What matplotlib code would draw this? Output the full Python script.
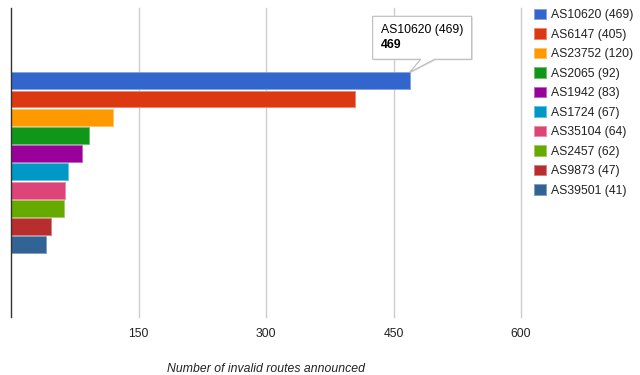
import matplotlib
matplotlib.use("Agg")
import matplotlib.pyplot as plt
import matplotlib.transforms as mtransforms
from matplotlib.patches import Polygon
from matplotlib.colors import to_rgb
import numpy as np

plt.rcParams['font.family'] = ['Liberation Sans', 'DejaVu Sans']

names = ['AS10620', 'AS6147', 'AS23752', 'AS2065', 'AS1942',
         'AS1724', 'AS35104', 'AS2457', 'AS9873', 'AS39501']
values = [469, 405, 120, 92, 83, 67, 64, 62, 47, 41]
colors = ['#3366cc', '#dc3912', '#ff9900', '#109618', '#990099',
          '#0099c6', '#dd4477', '#66aa00', '#b82e2e', '#316395']
xticks = [150, 300, 450, 600]
xlabel = 'Number of invalid routes announced'

FS = 8.8

fig = plt.figure(figsize=(6.4, 3.75), dpi=100)
W, H = 640, 375
ax = fig.add_axes([11 / W, (H - 317.3) / H, (521 - 11) / W, (317.3 - 8.3) / H])

def lighten(c, f=0.4):
    r, g, b = to_rgb(c)
    return (r + (1 - r) * f, g + (1 - g) * f, b + (1 - b) * f)

bars = []
for i, (n, v, c) in enumerate(zip(names, values, colors)):
    b = ax.barh(i, v, height=0.93, color=c, edgecolor=lighten(c), linewidth=0.7,
                label=f'{n} ({v})', zorder=3)
    bars.append(b)

half = 309 / 18.23 / 2
ax.set_ylim(4.5 + half, 4.5 - half)
ax.set_xlim(0, 600)
ax.set_xticks(xticks)
ax.set_xticklabels([str(t) for t in xticks], fontsize=FS, color='#222222')
ax.set_yticks([])
ax.tick_params(axis='x', length=0, pad=8)
ax.grid(axis='x', color='#cccccc', linewidth=1.0, zorder=0)
for gl in ax.get_xgridlines():
    gl.set_clip_on(False)
for s in ['top', 'right', 'bottom']:
    ax.spines[s].set_visible(False)
ax.spines['left'].set_color('#333333')
ax.spines['left'].set_linewidth(1.0)
ax.spines['left'].set_zorder(4)
ax.set_xlabel(xlabel, fontsize=FS, fontstyle='italic', color='#222222', labelpad=16)

# legend
leg = fig.legend(handles=[b for b in bars], loc='upper left',
                 bbox_to_anchor=(534 / W, (H - 8.5) / H), frameon=False,
                 fontsize=FS, handlelength=1.0, handleheight=1.0,
                 handletextpad=0.4, labelspacing=0.56, borderpad=0,
                 borderaxespad=0)
for t in leg.get_texts():
    t.set_color('#222222')

# tooltip anchored to the top-right corner of the first bar
anchor_x = values[0]
anchor_y = 0 - 0.93 / 2
trans = mtransforms.Affine2D().scale(fig.dpi / 100) + \
    mtransforms.ScaledTranslation(anchor_x, anchor_y, ax.transData)
verts = [(-37, 13), (11, 13), (0, 0), (25, 13), (62, 13), (62, 56), (-37, 56)]
shadow = Polygon([(x + 1, y - 1) for x, y in verts], closed=True, transform=trans,
                 facecolor='#dddddd', edgecolor='none', zorder=9, clip_on=False)
box = Polygon(verts, closed=True, transform=trans, facecolor='white',
              edgecolor='#bbbbbb', linewidth=0.8, zorder=10, clip_on=False)
ax.add_patch(shadow)
ax.add_patch(box)
ax.annotate(f'{names[0]} ({values[0]})', xy=(anchor_x, anchor_y),
            xytext=(-29, 42), textcoords='offset pixels', ha='left', va='center',
            fontsize=FS, color='#000000', zorder=11, annotation_clip=False)
ax.annotate(f'{values[0]}', xy=(anchor_x, anchor_y),
            xytext=(-29, 27), textcoords='offset pixels', ha='left', va='center',
            fontsize=FS, fontweight='bold', color='#000000', zorder=11,
            annotation_clip=False)

fig.savefig('out.png', dpi=100)
